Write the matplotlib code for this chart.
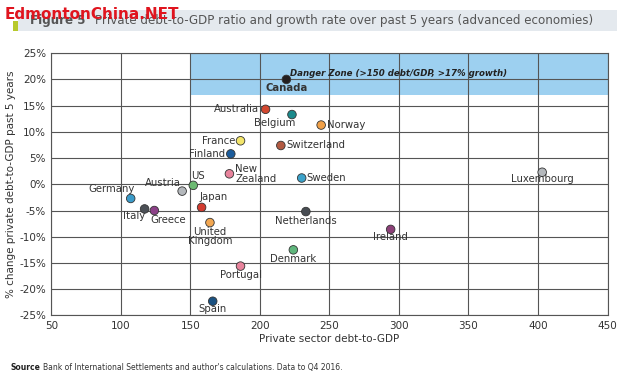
import matplotlib
matplotlib.use('Agg')
import matplotlib.pyplot as plt
from matplotlib.patches import Rectangle
from matplotlib.ticker import FuncFormatter

plt.rcParams['axes.unicode_minus'] = False
plt.rcParams['font.family'] = 'DejaVu Sans'

countries = ['Canada', 'Australia', 'Belgium', 'Norway', 'France', 'Finland',
             'Switzerland', 'New\nZealand', 'Sweden', 'Luxembourg', 'US', 'Austria',
             'Germany', 'Italy', 'Greece', 'Japan', 'United\nKingdom', 'Netherlands',
             'Ireland', 'Denmark', 'Portugal', 'Spain']
debt = [219, 204, 223, 244, 186, 179, 215, 178, 230, 403, 152, 144,
        107, 117, 124, 158, 164, 233, 294, 224, 186, 166]
growth = [20.0, 14.3, 13.3, 11.3, 8.3, 5.8, 7.4, 2.0, 1.2, 2.3, -0.2, -1.3,
          -2.7, -4.7, -5.0, -4.4, -7.3, -5.2, -8.6, -12.5, -15.6, -22.3]
colors = ['#231f20', '#d2472f', '#1a8a8c', '#f0a048', '#f3e56a', '#1b5c9c',
          '#b25a42', '#e8839c', '#3ba2ca', '#b4b8bc', '#6cba72', '#b4b8bc',
          '#3a9bc9', '#4b5056', '#8c4088', '#d23b2f', '#f2a752', '#474c52',
          '#8c4078', '#5fb67c', '#e8839c', '#1b5282']
# label offsets in pixels (dx, dy) and alignment
offsets = [(0, -9, 'center'), (-6, 0, 'right'), (-17, -8, 'center'), (6, 0, 'left'),
           (-5, 0, 'right'), (-6, 0, 'right'), (6, 0, 'left'), (6, 0, 'left'),
           (5, 0, 'left'), (0, -7, 'center'), (-2, 9, 'left'), (-1, 8, 'right'),
           (-19, 9, 'center'), (-10, -7, 'center'), (14, -9, 'center'), (12, 10, 'center'),
           (0, -14, 'center'), (0, -9, 'center'), (0, -8, 'center'), (0, -9, 'center'),
           (0, -9, 'center'), (0, -8, 'center')]

fig = plt.figure(figsize=(6.3, 3.8), dpi=100)
ax = fig.add_axes([0.0817, 0.17, 0.8826, 0.69])

ax.add_patch(Rectangle((150, 17), 300, 8, facecolor='#9dd0f0', edgecolor='none', zorder=0))
ax.text(300, 21.1, 'Danger Zone (>150 debt/GDP, >17% growth)', ha='center', va='center',
        fontsize=6.2, fontweight='bold', style='italic', color='#222222', zorder=3)

ax.scatter(debt, growth, s=38, c=colors, edgecolors='#333333', linewidths=0.6, zorder=4)
for name, x, y, (dx, dy, ha) in zip(countries, debt, growth, offsets):
    ax.annotate(name, (x, y), xytext=(dx, dy), textcoords='offset pixels',
                ha=ha, va='center', fontsize=7.3, color='#333333',
                fontweight='bold' if name == 'Canada' else 'normal',
                linespacing=0.95, zorder=5)

ax.set_xlim(50, 450)
ax.set_ylim(-25, 25)
ax.set_xticks(range(50, 451, 50))
ax.set_yticks(range(-25, 26, 5))
ax.yaxis.set_major_formatter(FuncFormatter(lambda v, p: '%d%%' % v))
ax.grid(True, color='#555555', linewidth=0.8, zorder=1)
ax.set_axisbelow(True)
for s in ax.spines.values():
    s.set_color('#555555')
    s.set_linewidth(0.8)
ax.tick_params(length=0, labelsize=7.5, colors='#333333', pad=4)
ax.set_xlabel('Private sector debt-to-GDP', fontsize=7.5, color='#333333', labelpad=2)
ax.set_ylabel('% change private debt-to-GDP past 5 years', fontsize=7.5, color='#333333', labelpad=2)

# title bar
fig.patches.append(Rectangle((0.029, 0.918), 0.95, 0.056, transform=fig.transFigure,
                             facecolor='#e4e9ee', edgecolor='none'))
fig.patches.append(Rectangle((0.02, 0.918), 0.008, 0.028, transform=fig.transFigure,
                             facecolor='#b7c92c', edgecolor='none'))
fig.text(0.048, 0.945, 'Figure 5', fontsize=8.6, fontweight='bold', color='#555555', va='center')
fig.text(0.151, 0.945, 'Private debt-to-GDP ratio and growth rate over past 5 years (advanced economies)',
         fontsize=8.6, color='#555555', va='center')
fig.text(0.008, 0.962, 'EdmontonChina.NET', fontsize=11, fontweight='bold', color='#e0141e', va='center')

fig.text(0.016, 0.032, 'Source', fontsize=5.5, fontweight='bold', color='#222222', va='center')
fig.text(0.068, 0.032, "Bank of International Settlements and author's calculations. Data to Q4 2016.",
         fontsize=5.5, color='#333333', va='center')

fig.savefig('out.png', dpi=100)
